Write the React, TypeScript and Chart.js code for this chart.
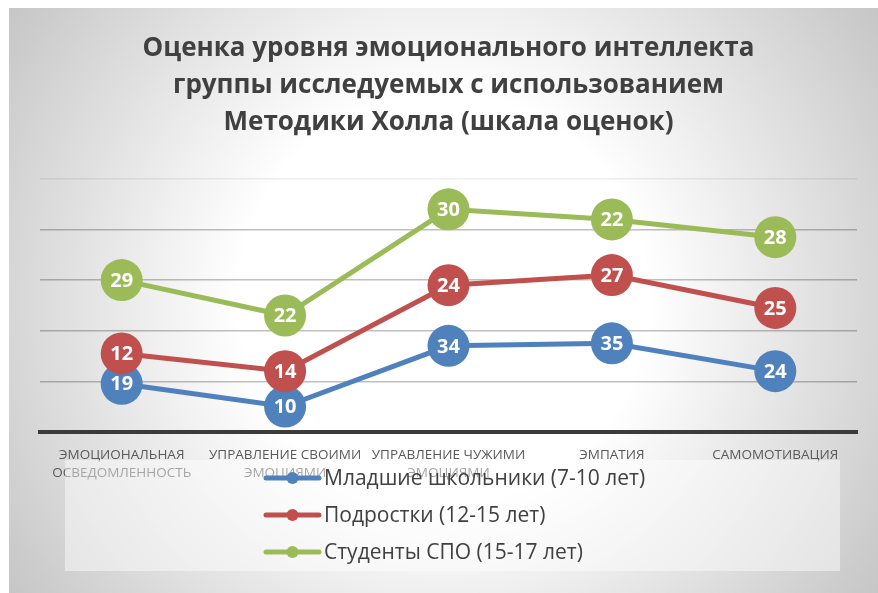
import React, { useEffect, useRef } from 'react';
import { Chart, registerables } from 'chart.js';

Chart.register(...registerables);

// ---- data ----
const categories: string[][] = [
  ['ЭМОЦИОНАЛЬНАЯ', 'ОСВЕДОМЛЕННОСТЬ'],
  ['УПРАВЛЕНИЕ СВОИМИ', 'ЭМОЦИЯМИ'],
  ['УПРАВЛЕНИЕ ЧУЖИМИ', 'ЭМОЦИЯМИ'],
  ['ЭМПАТИЯ'],
  ['САМОМОТИВАЦИЯ'],
];
const seriesNames = [
  'Младшие школьники (7-10 лет)',
  'Подростки (12-15 лет)',
  'Студенты СПО (15-17 лет)',
];
const juniors = [19, 10, 34, 35, 24];
const teens = [12, 14, 24, 27, 25];
const students = [29, 22, 30, 22, 28];
const titleLines = [
  'Оценка уровня эмоционального интеллекта',
  'группы исследуемых с использованием',
  'Методики Холла (шкала оценок)',
];
const yMin = 0;
const yMax = 100;
const yStep = 20;

// ---- styles ----
const seriesColors = ['#4F81BD', '#C0504D', '#9BBB59'];
const FONT = '"Open Sans", "Noto Sans", sans-serif';
const W = 869;
const H = 585;

const orderAndLabelsPlugin = {
  id: 'orderAndLabels',
  beforeDatasetsDraw(chart: any) {
    const metas = chart.getSortedVisibleDatasetMetas();
    for (const meta of metas) {
      meta.controller.draw();
    }
    const ctx = chart.ctx;
    ctx.save();
    ctx.font = `bold 20px ${FONT}`;
    ctx.fillStyle = '#ffffff';
    ctx.textAlign = 'center';
    ctx.textBaseline = 'middle';
    for (const meta of metas) {
      const ds = chart.data.datasets[meta.index];
      meta.data.forEach((pt: any, i: number) => {
        ctx.fillText(String(ds.data[i]), pt.x, pt.y + 1);
      });
    }
    ctx.restore();
    return false;
  },
};

const customLegendPlugin = {
  id: 'customLegend',
  afterDraw(chart: any) {
    const ctx = chart.ctx;
    ctx.save();
    ctx.fillStyle = 'rgba(255,255,255,0.45)';
    ctx.fillRect(56, 452, 775, 111);
    chart.data.datasets.forEach((ds: any, i: number) => {
      const y = 470 + 37 * i;
      ctx.strokeStyle = ds.borderColor;
      ctx.lineWidth = 5;
      ctx.lineCap = 'round';
      ctx.beginPath();
      ctx.moveTo(257, y);
      ctx.lineTo(310, y);
      ctx.stroke();
      ctx.fillStyle = ds.borderColor;
      ctx.beginPath();
      ctx.arc(283.5, y, 6, 0, Math.PI * 2);
      ctx.fill();
      ctx.fillStyle = '#404040';
      ctx.font = `21px ${FONT}`;
      ctx.textAlign = 'left';
      ctx.textBaseline = 'middle';
      ctx.fillText(ds.label, 315, y + 1);
    });
    ctx.restore();
  },
};

export default function App() {
  const canvasRef = useRef<HTMLCanvasElement | null>(null);

  useEffect(() => {
    if (!canvasRef.current) return;
    const seriesData = [juniors, teens, students];
    const chart = new Chart(canvasRef.current, {
      type: 'line',
      data: {
        labels: categories,
        datasets: seriesData.map((d, i) => ({
          label: seriesNames[i],
          data: d,
          borderColor: seriesColors[i],
          backgroundColor: seriesColors[i],
          pointBackgroundColor: seriesColors[i],
          pointBorderColor: seriesColors[i],
          pointBorderWidth: 0,
          borderWidth: 5,
          pointRadius: 21,
          pointHoverRadius: 21,
          tension: 0,
          fill: false,
          clip: false,
        })),
      },
      options: {
        animation: false,
        responsive: false,
        events: [],
        devicePixelRatio: 1,
        layout: { padding: { left: 31, right: 17, top: 0, bottom: 97 } },
        plugins: {
          legend: { display: false },
          tooltip: { enabled: false },
          title: {
            display: true,
            text: titleLines,
            color: '#404040',
            fullSize: false,
            font: { family: FONT, size: 26, weight: 'bold', lineHeight: 1.423 },
            padding: { top: 22, bottom: 38 },
          },
        },
        scales: {
          x: {
            offset: true,
            grid: { display: false, drawTicks: false },
            border: { display: true, color: '#3b3b3b', width: 4 },
            ticks: {
              color: '#595959',
              font: { family: FONT, size: 13.5, lineHeight: 1.34 },
              padding: 14,
              maxRotation: 0,
              autoSkip: false,
            },
          },
          y: {
            stacked: true,
            min: yMin,
            max: yMax,
            ticks: { display: false, stepSize: yStep },
            border: { display: false },
            grid: {
              drawTicks: false,
              lineWidth: 1.5,
              color: (c: any) => {
                const v = c.tick ? c.tick.value : 0;
                if (v === yMin) return 'rgba(0,0,0,0)';
                if (v === yMax) return 'rgba(0,0,0,0.07)';
                return 'rgba(0,0,0,0.25)';
              },
            },
          },
        },
      },
      plugins: [orderAndLabelsPlugin, customLegendPlugin],
    } as any);
    return () => chart.destroy();
  }, []);

  return (
    <div
      style={{
        position: 'fixed',
        left: 9,
        top: 8,
        width: W,
        height: H,
        background:
          'radial-gradient(circle farthest-corner at 50% 50%, #ffffff 39%, #c6c6c6 100%)',
      }}
    >
      <canvas ref={canvasRef} width={W} height={H} style={{ display: 'block' }} />
    </div>
  );
}
